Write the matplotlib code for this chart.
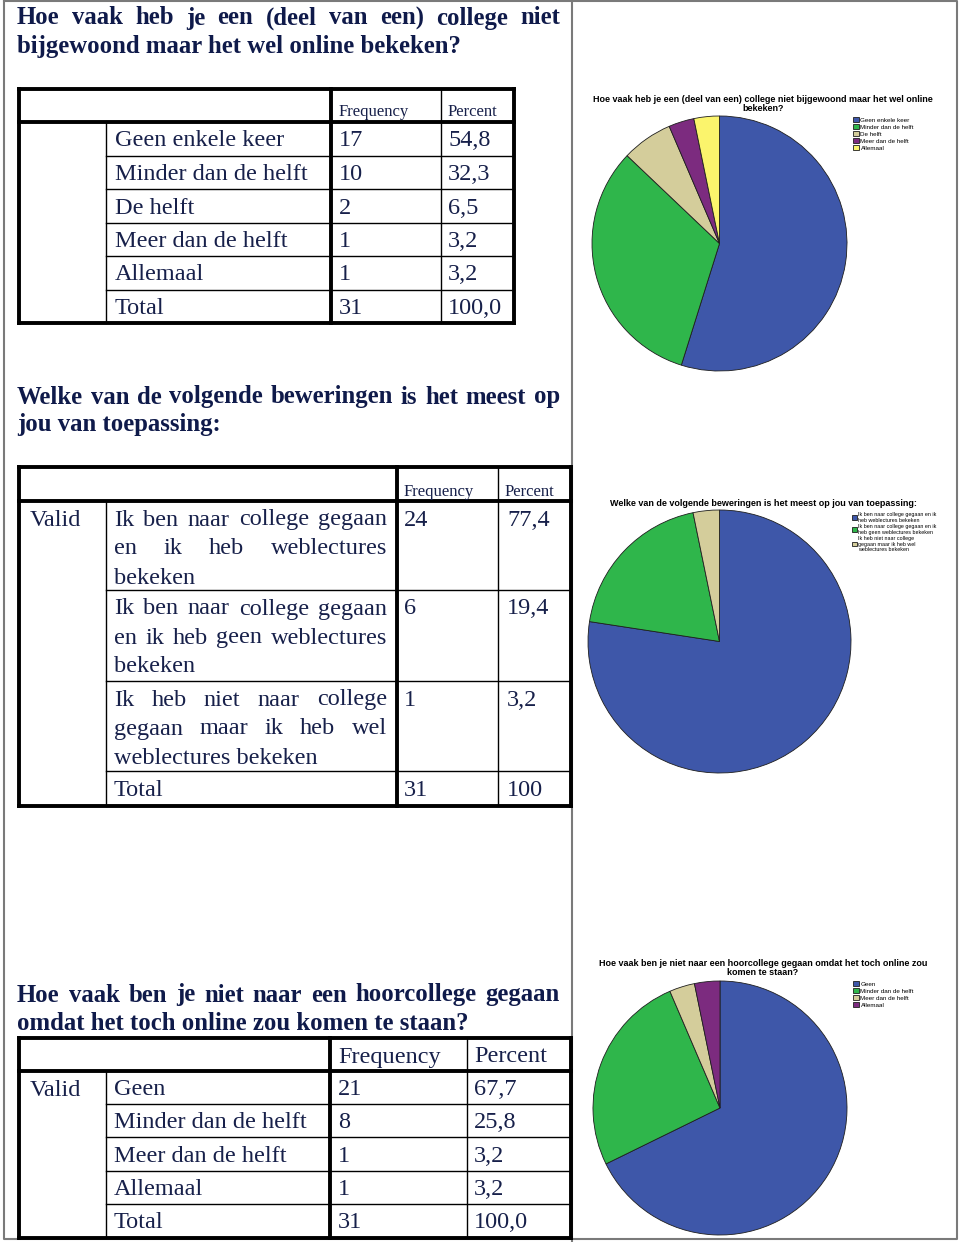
import numpy as np
import matplotlib.pyplot as plt

# ---- data ----
q1_title = ["Hoe vaak heb je een (deel van een) college niet",
            "bijgewoond maar het wel online bekeken?"]
q1_labels = ["Geen enkele keer", "Minder dan de helft", "De helft",
             "Meer dan de helft", "Allemaal"]
q1_freq = [17, 10, 2, 1, 1]
q1_pct = ["54,8", "32,3", "6,5", "3,2", "3,2"]
q1_total = ["31", "100,0"]
q1_pie_title = "Hoe vaak heb je een (deel van een) college niet bijgewoond maar het wel online\nbekeken?"

q2_title = ["Welke van de volgende beweringen is het meest op",
            "jou van toepassing:"]
q2_lines = [["Ik ben naar college gegaan", "en ik heb weblectures", "bekeken"],
            ["Ik ben naar college gegaan", "en ik heb geen weblectures", "bekeken"],
            ["Ik heb niet naar college", "gegaan maar ik heb wel", "weblectures bekeken"]]
q2_legend = ["Ik ben naar college gegaan en ik\nheb weblectures bekeken",
             "Ik ben naar college gegaan en ik\nheb geen weblectures bekeken",
             "Ik heb niet naar college\ngegaan maar ik heb wel\nweblectures bekeken"]
q2_freq = [24, 6, 1]
q2_pct = ["77,4", "19,4", "3,2"]
q2_total = ["31", "100"]
q2_pie_title = "Welke van de volgende beweringen is het meest op jou van toepassing:"

q3_title = ["Hoe vaak ben je niet naar een hoorcollege gegaan",
            "omdat het toch online zou komen te staan?"]
q3_labels = ["Geen", "Minder dan de helft", "Meer dan de helft", "Allemaal"]
q3_freq = [21, 8, 1, 1]
q3_pct = ["67,7", "25,8", "3,2", "3,2"]
q3_total = ["31", "100,0"]
q3_pie_title = "Hoe vaak ben je niet naar een hoorcollege gegaan omdat het toch online zou\nkomen te staan?"

# ---- style ----
W, H = 960, 1242
ink = "#17204a"
serif = "Liberation Serif"
sans = "Liberation Sans"
c_blue, c_green, c_tan, c_purple, c_yellow = "#3e57a9", "#2fb64b", "#d4cd9b", "#7c2b7f", "#fbf46c"
thin, thick = 1.0, 2.8

fig = plt.figure(figsize=(W / 100, H / 100), dpi=100)
page = fig.add_axes([0, 0, 1, 1])
page.set_xlim(0, W)
page.set_ylim(H, 0)
page.axis("off")
renderer = fig.canvas.get_renderer()


def justified(text, x0, x1, y, **kw):
    words = text.split()
    objs = [page.text(0, y, w, ha="left", va="center", **kw) for w in words]
    widths = [t.get_window_extent(renderer).width for t in objs]
    gap = (x1 - x0 - sum(widths)) / max(len(words) - 1, 1)
    x = x0
    for t, w in zip(objs, widths):
        t.set_x(x)
        x += w + gap


def title(lines, y0):
    tkw = dict(fontsize=17.8, fontweight="bold", family=serif, color="#0f1a4a")
    justified(lines[0], 17, 560, y0, **tkw)
    page.text(17, y0 + 28, lines[1], ha="left", va="center", **tkw)


def hline(y, x0, x1, lw):
    page.plot([x0, x1], [y, y], color="black", lw=lw, solid_capstyle="projecting")


def vline(x, y0, y1, lw):
    page.plot([x, x], [y0, y1], color="black", lw=lw, solid_capstyle="projecting")


def grid(cols, rows):
    L, c1, c2, c3, R = cols
    T, Hd = rows[0], rows[1]
    B = rows[-1]
    for y in rows[2:-1]:
        hline(y, c1, R, thin)
    vline(c1, Hd, B, thin)
    vline(c3, T, B, thin)
    vline(c2, T, B, thick)
    hline(Hd, L, R, thick)
    hline(T, L, R, thick)
    hline(B, L, R, thick)
    vline(L, T, B, thick)
    vline(R, T, B, thick)


def draw_pie(cx, cy, r, values, colors):
    ax = fig.add_axes([(cx - r) / W, 1 - (cy + r) / H, 2 * r / W, 2 * r / H])
    wedges, _ = ax.pie(values, colors=colors, startangle=90, counterclock=False,
                       wedgeprops=dict(edgecolor="#1e1e1e", linewidth=0.6))
    ax.set_xlim(-1, 1)
    ax.set_ylim(-1, 1)
    return wedges


def pie_legend(wedges, labels, x, y, size):
    fig.legend(wedges, labels, loc="upper left", bbox_to_anchor=(x / W, 1 - y / H),
               frameon=False, prop=dict(family=sans, size=size), handlelength=0.9,
               handleheight=0.9, handletextpad=0.3, labelspacing=0.2,
               borderpad=0, borderaxespad=0)


dkw = dict(fontsize=17.5, family=serif, color=ink, ha="left", va="center")
hkw = dict(fontsize=12, family=serif, color=ink, ha="left", va="center")
pkw = dict(fontsize=6.5, family=sans, fontweight="bold", color="black",
           ha="center", va="center", linespacing=0.95)

# ---- page frame ----
page.plot([4, 957, 957, 4, 4], [1, 1, 1239, 1239, 1], color="#7a7a7a", lw=1.5)
page.plot([572, 572], [0, 1242], color="#7a7a7a", lw=1.5)

# ---- block 1 ----
title(q1_title, 18)
rows1 = [89, 122, 156, 189, 223, 256, 290, 323]
grid([19, 106, 331, 441, 514], rows1)
page.text(339, 112, "Frequency", **hkw)
page.text(448, 112, "Percent", **hkw)
for i, lab in enumerate(q1_labels + ["Total"]):
    yc = (rows1[i + 1] + rows1[i + 2]) / 2 + 2
    f = (q1_freq + [q1_total[0]])[i]
    p = (q1_pct + [q1_total[1]])[i]
    page.text(115, yc, lab, **dkw)
    page.text(339, yc, str(f), **dkw)
    page.text(448, yc, p, **dkw)

w1 = draw_pie(719.5, 243.5, 127.5, q1_freq, [c_blue, c_green, c_tan, c_purple, c_yellow])
page.text(763, 104, q1_pie_title, **pkw)
pie_legend(w1, q1_labels, 853, 117, 4.5)

# ---- block 2 ----
title(q2_title, 397)
rows2 = [467, 501, 590, 681, 771, 806]
grid([19, 106, 397, 498, 571], rows2)
page.text(404, 492, "Frequency", **hkw)
page.text(505, 492, "Percent", **hkw)
page.text(30, 520, "Valid", **dkw)
jkw = {a: b for a, b in dkw.items() if a not in ("ha", "va")}
for i, lines in enumerate(q2_lines):
    y0 = rows2[i + 1] + 19
    for k, ln in enumerate(lines):
        yy = y0 + k * 29
        if k < len(lines) - 1:
            justified(ln, 114, 387, yy, **jkw)
        else:
            page.text(114, yy, ln, **dkw)
    page.text(404, y0, str(q2_freq[i]), **dkw)
    page.text(507, y0, q2_pct[i], **dkw)
page.text(114, 791, "Total", **dkw)
page.text(404, 791, q2_total[0], **dkw)
page.text(507, 791, q2_total[1], **dkw)

w2 = draw_pie(719.5, 641.5, 131.5, q2_freq, [c_blue, c_green, c_tan])
page.text(763, 503, q2_pie_title, **pkw)
pie_legend(w2, q2_legend, 852, 512, 3.9)

# ---- block 3 ----
title(q3_title, 995)
rows3 = [1038, 1071, 1104, 1137, 1171, 1204, 1238]
grid([19, 106, 330, 467, 571], rows3)
page.text(338, 1057, "Frequency", **dkw)
page.text(474, 1057, "Percent", **dkw)
page.text(30, 1090, "Valid", **dkw)
for i, lab in enumerate(q3_labels + ["Total"]):
    yc = (rows3[i + 1] + rows3[i + 2]) / 2 + 2
    f = (q3_freq + [q3_total[0]])[i]
    p = (q3_pct + [q3_total[1]])[i]
    page.text(114, yc, lab, **dkw)
    page.text(338, yc, str(f), **dkw)
    page.text(474, yc, p, **dkw)

w3 = draw_pie(720, 1108, 127, q3_freq, [c_blue, c_green, c_tan, c_purple])
page.text(763, 968, q3_pie_title, **pkw)
pie_legend(w3, q3_labels, 853, 981, 4.5)

fig.savefig("out.png", dpi=100)
